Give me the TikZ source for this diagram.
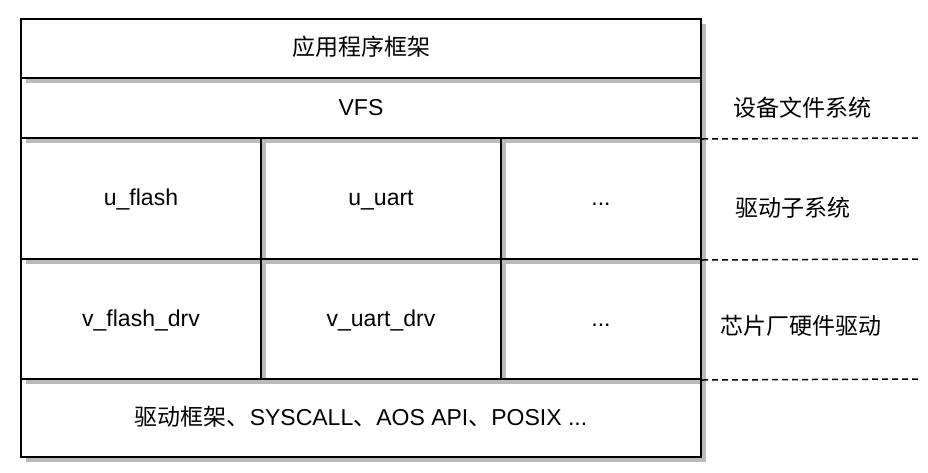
\documentclass[tikz,border=0pt]{standalone}
\usepackage{fontspec}
\setmainfont{Liberation Sans}
\newfontfamily\cjk{Noto Sans CJK SC}
\usepackage{tikz}
\usetikzlibrary{positioning, shadows}

\begin{document}
\begin{tikzpicture}[
  x=1pt, y=-1pt,
  layer/.style={rectangle, draw=black, line width=2pt, fill=white,
                inner sep=0pt, text height=19pt, text depth=5pt,
                font=\fontsize{23}{27}\selectfont,
                drop shadow={shadow xshift=5pt, shadow yshift=-5pt,
                             fill=black, opacity=0.27}},
  side/.style={font=\fontsize{23}{27}\selectfont\cjk, inner sep=0pt},
  sep/.style={black, line width=1.5pt, dash pattern=on 6pt off 4pt},
]
  \useasboundingbox (0,0) rectangle (928,472);

  % ── layers, drawn from the bottom up ──
  \node[layer, minimum width=680pt, minimum height=78pt] (drvfw) at (361,418)
    {{\cjk 驱动框架、}SYSCALL{\cjk 、}AOS API{\cjk 、}POSIX ...};

  \node[layer, minimum width=200pt, minimum height=120pt] (vdots) at (601,319) {...};
  \node[layer, minimum width=240pt, minimum height=120pt] (vuart) at (381,319) {v\_uart\_drv};
  \node[layer, minimum width=240pt, minimum height=120pt] (vflash) at (141,319) {v\_flash\_drv};

  \node[layer, minimum width=200pt, minimum height=121pt] (udots) at (601,198.5) {...};
  \node[layer, minimum width=240pt, minimum height=121pt] (uuart) at (381,198.5) {u\_uart};
  \node[layer, minimum width=240pt, minimum height=121pt] (uflash) at (141,198.5) {u\_flash};

  \node[layer, minimum width=680pt, minimum height=60pt] (vfs) at (361,108) {VFS};
  \node[layer, minimum width=680pt, minimum height=59pt] (app) at (361,48.5) {\cjk 应用程序框架};

  % ── side labels ──
  \node[side] (lbvfs) at (802,108) {设备文件系统};
  \node[side] (lbsub) at (793,208) {驱动子系统};
  \node[side] (lbchip) at (801,326) {芯片厂硬件驱动};

  % ── dashed separators ──
  \coordinate (d1) at (920,138);
  \coordinate (d2) at (920,259);
  \coordinate (d3) at (920,379);
  \draw[sep] (vfs.south east) -- (d1);
  \draw[sep] (udots.south east) -- (d2);
  \draw[sep] (vdots.south east) -- (d3);
\end{tikzpicture}
\end{document}
